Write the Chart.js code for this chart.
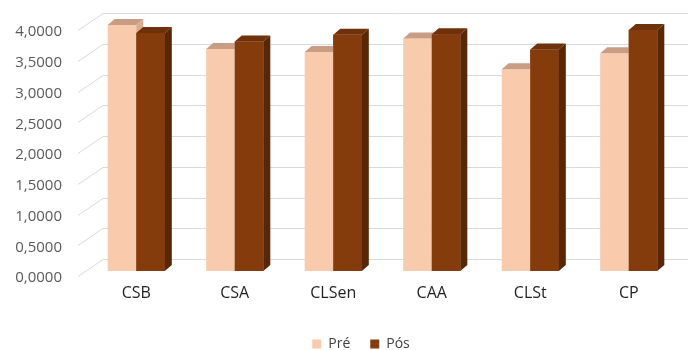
<!DOCTYPE html>
<html>
<head>
<meta charset="utf-8">
<script src="https://cdn.jsdelivr.net/npm/chart.js@4/dist/chart.umd.min.js"></script>
<style>
  html, body { margin: 0; padding: 0; background: #ffffff; }
  #wrap { width: 688px; height: 350px; }
</style>
</head>
<body>
<div id="wrap"><canvas id="chart"></canvas></div>
<script>
// Categories and series
const categories = ['CSB', 'CSA', 'CLSen', 'CAA', 'CLSt', 'CP'];
const seriesNames = ['Pré', 'Pós'];
const preValues = [4.00, 3.61, 3.56, 3.78, 3.28, 3.54];
const posValues = [3.87, 3.73, 3.84, 3.85, 3.60, 3.92];
const yTickValues = [0, 0.5, 1, 1.5, 2, 2.5, 3, 3.5, 4];
const yTickLabels = ['0,0000', '0,5000', '1,0000', '1,5000', '2,0000', '2,5000', '3,0000', '3,5000', '4,0000'];

// Face colours for the block-style bars: front, top, side
const faceColors = [
  { front: '#F8CBAD', top: '#C89D84', side: '#D8AD90' },
  { front: '#843C0C', top: '#6F310A', side: '#5A2706' }
];

// Depth of each bar block and of the back wall
const BAR_DX = 7, BAR_DY = -6;
const WALL_FRONT_X = -9, WALL_BACK_X = 16, WALL_FRONT_DY = 5, WALL_BACK_DY = -12;
const LEGEND_SHIFT = 44;

function barBox(bar) {
  const { x, y, base, width } = bar.getProps(['x', 'y', 'base', 'width'], true);
  return { l: x - width / 2, r: x + width / 2, y, base };
}

function drawTop(ctx, b, color) {
  ctx.fillStyle = color;
  ctx.beginPath();
  ctx.moveTo(b.l, b.y);
  ctx.lineTo(b.r, b.y);
  ctx.lineTo(b.r + BAR_DX, b.y + BAR_DY);
  ctx.lineTo(b.l + BAR_DX, b.y + BAR_DY);
  ctx.closePath();
  ctx.fill();
}

function drawSide(ctx, b, color) {
  ctx.fillStyle = color;
  ctx.beginPath();
  ctx.moveTo(b.r, b.y);
  ctx.lineTo(b.r + BAR_DX, b.y + BAR_DY);
  ctx.lineTo(b.r + BAR_DX, b.base + BAR_DY);
  ctx.lineTo(b.r, b.base);
  ctx.closePath();
  ctx.fill();
}

const blockBars = {
  id: 'blockBars',
  afterLayout(chart) {
    // centre the legend under the plot like the rest of the figure
    if (chart.legend) { chart.legend.left += LEGEND_SHIFT; }
  },
  beforeDatasetsDraw(chart) {
    const { ctx, chartArea } = chart;
    const y = chart.scales.y;
    ctx.save();
    ctx.strokeStyle = '#D9D9D9';
    ctx.lineWidth = 1;
    y.ticks.forEach(t => {
      const p = Math.round(y.getPixelForValue(t.value));
      ctx.beginPath();
      ctx.moveTo(chartArea.left + WALL_FRONT_X, p + WALL_FRONT_DY + 0.5);
      ctx.lineTo(chartArea.left + WALL_BACK_X, p + WALL_BACK_DY + 0.5);
      ctx.lineTo(chart.width, p + WALL_BACK_DY + 0.5);
      ctx.stroke();
    });
    ctx.restore();
  },
  afterDatasetsDraw(chart) {
    const ctx = chart.ctx;
    const preMeta = chart.getDatasetMeta(0);
    const posMeta = chart.getDatasetMeta(1);
    ctx.save();
    preMeta.data.forEach((bar, i) => {
      const a = barBox(bar);
      const b = barBox(posMeta.data[i]);
      drawTop(ctx, a, faceColors[0].top);
      drawSide(ctx, a, faceColors[0].side);
      // the second block stands in front of the first one's side face
      ctx.fillStyle = faceColors[1].front;
      ctx.fillRect(b.l, b.y, b.r - b.l, b.base - b.y);
      drawTop(ctx, b, faceColors[1].top);
      drawSide(ctx, b, faceColors[1].side);
    });
    ctx.restore();
  }
};

new Chart(document.getElementById('chart'), {
  type: 'bar',
  data: {
    labels: categories,
    datasets: [
      { label: seriesNames[0], data: preValues, backgroundColor: faceColors[0].front, borderWidth: 0,
        categoryPercentage: 0.58, barPercentage: 1.0 },
      { label: seriesNames[1], data: posValues, backgroundColor: faceColors[1].front, borderWidth: 0,
        categoryPercentage: 0.58, barPercentage: 1.0 }
    ]
  },
  options: {
    responsive: true,
    maintainAspectRatio: false,
    animation: false,
    layout: { padding: { top: 25, right: 10, bottom: -11, left: 0 } },
    plugins: {
      tooltip: { enabled: false },
      legend: {
        position: 'bottom',
        labels: {
          boxWidth: 9,
          boxHeight: 9,
          padding: 20,
          color: '#404040',
          font: { family: 'Open Sans', size: 14 }
        }
      }
    },
    scales: {
      x: {
        grid: { display: false, drawTicks: false },
        border: { display: false },
        ticks: { color: '#1F1F1F', padding: 13, font: { family: 'Open Sans', size: 16 } },
        afterFit(scale) { scale.height = 46; }
      },
      y: {
        min: 0,
        max: 4,
        grid: { display: false, drawTicks: false },
        border: { display: false },
        afterBuildTicks(scale) { scale.ticks = yTickValues.map(v => ({ value: v })); },
        ticks: {
          color: '#595959',
          padding: 25,
          labelOffset: 7,
          font: { family: 'Open Sans', size: 15 },
          callback: (v) => yTickLabels[yTickValues.indexOf(v)]
        },
        afterFit(scale) {
          scale.width = 87;
          scale.paddingTop = 0;
          scale.paddingBottom = 0;
        }
      }
    }
  },
  plugins: [blockBars]
});
</script>
</body>
</html>
